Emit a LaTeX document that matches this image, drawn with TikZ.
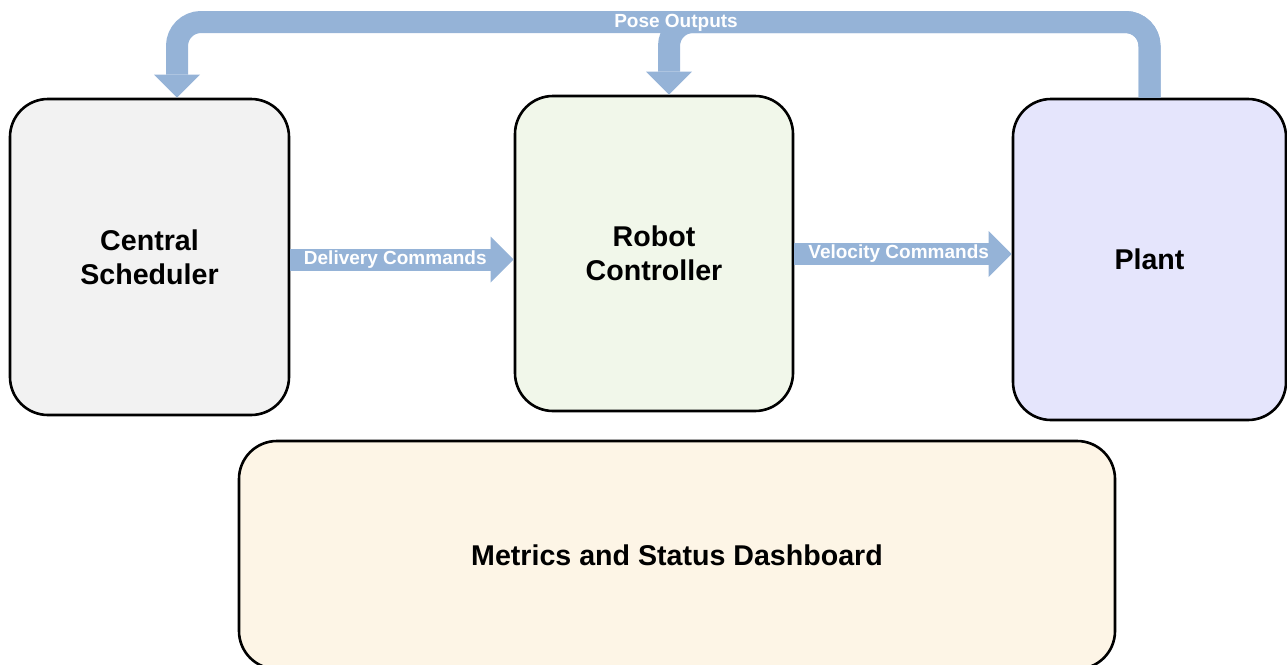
\documentclass[tikz,border=0pt]{standalone}
\usepackage{fontspec}
\setmainfont{Liberation Sans}
\usetikzlibrary{arrows.meta}
\definecolor{flexc}{HTML}{95B3D7}
\definecolor{schedfill}{HTML}{F2F2F2}
\definecolor{ctrlfill}{HTML}{F1F7EA}
\definecolor{plantfill}{HTML}{E5E5FC}
\definecolor{dashfill}{HTML}{FDF5E6}
\begin{document}
\begin{tikzpicture}[x=1pt,y=-1pt,
  box/.style={draw=black, line width=2.6pt, rounded corners=38pt,
    font=\fontsize{28.6}{34}\selectfont\bfseries, align=center, inner sep=0pt},
  flex/.style={draw=flexc, line width=22pt, line cap=butt,
    -{Triangle[length=23pt,width=46pt,line width=0pt]}},
  flexlabel/.style={text=white, font=\fontsize{19}{22}\selectfont\bfseries, inner sep=0pt}]
\useasboundingbox (0,0) rectangle (1287,664);
\node[box, fill=schedfill, minimum width=279pt, minimum height=316pt] (cs) at (149.5,257) {Central\\Scheduler};
\node[box, fill=ctrlfill, minimum width=278pt, minimum height=315pt] (rc) at (654,253.5) {Robot\\Controller};
\node[box, fill=plantfill, minimum width=273pt, minimum height=321pt] (pl) at (1149.5,259.5) {Plant};
\node[box, fill=dashfill, minimum width=876pt, minimum height=228pt] (db) at (677,555) {Metrics and Status Dashboard};
% Delivery / Velocity commands
\draw[flex] (cs.east |- 0,259.5) -- node[flexlabel, pos=0.47] (dl) {Delivery Commands} (rc.west |- 0,259.5);
\draw[flex] (rc.east |- 0,254) -- node[flexlabel, pos=0.48] (vl) {Velocity Commands} (pl.west |- 0,254);
% Pose outputs
\coordinate (tl) at (177,22);
\coordinate (tm) at (669,22);
\draw[flex, rounded corners=24pt] (pl.north) |- (tm) -- (rc.north -| tm);
\draw[flex, rounded corners=24pt] (pl.north) |- (tl) -- (cs.north -| tl);
\node[flexlabel] (po) at (676,23) {Pose Outputs};
\end{tikzpicture}
\end{document}
